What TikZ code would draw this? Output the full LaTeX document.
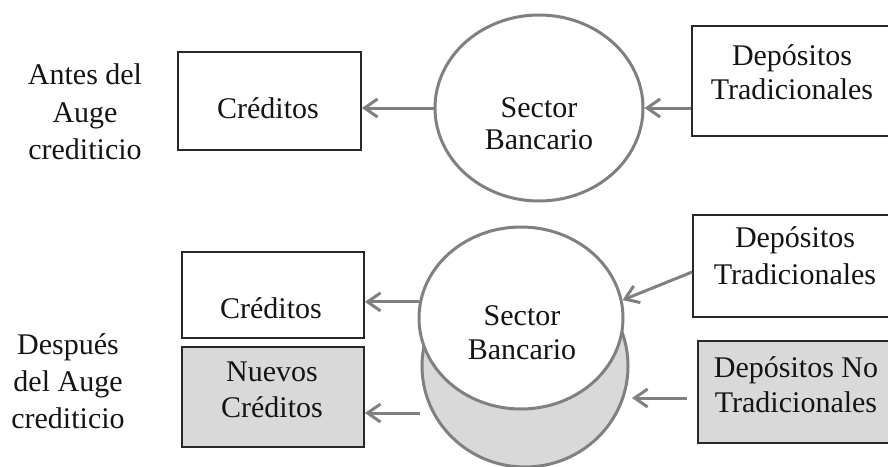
\documentclass[tikz,border=0pt]{standalone}
\usepackage{fontspec}
\setmainfont{Liberation Serif}
\usetikzlibrary{shapes.geometric,arrows.meta}
\definecolor{arrowgray}{RGB}{128,128,128}
\definecolor{fillgray}{RGB}{217,217,217}
\definecolor{boxline}{RGB}{40,40,40}
\definecolor{ink}{RGB}{20,20,20}
\begin{document}
\begin{tikzpicture}[x=1pt,y=-1pt,
  box/.style={draw=boxline, line width=1.8pt, inner sep=0pt, fill=white},
  graybox/.style={box, fill=fillgray},
  bank/.style={ellipse, draw=arrowgray, line width=3pt, fill=white, inner sep=0pt},
  graybank/.style={bank, fill=fillgray},
  txt/.style={text=ink, align=center, inner sep=0pt},
  bs/.style={font=\fontsize{30}{#1}\selectfont},
  flow/.style={draw=arrowgray, line width=3pt, -{Straight Barb[length=13pt,width=18pt]}}
]
\useasboundingbox (0,0) rectangle (888,466);

% ---------- Antes del auge ----------
\node[txt, bs=37.5] (l1) at (85,112) {Antes del\\Auge\\crediticio};
\node[box, minimum width=183pt, minimum height=98pt] (c1) at (269.5,101) {};
\node[txt, bs=34] (tc1) at (268,108) {Créditos};
\node[bank, minimum width=208pt, minimum height=186pt] (s1) at (539,108) {};
\node[txt, bs=32] (ts1) at (539,124) {Sector\\Bancario};
\node[box, minimum width=203pt, minimum height=110pt] (d1) at (793.5,81) {};
\node[txt, bs=34] (td1) at (792,72) {Depósitos\\Tradicionales};

\draw[flow] (s1.west) -- (s1.west -| c1.east);
\draw[flow] (d1.west |- s1.east) -- (s1.east);

% ---------- Después del auge ----------
\node[txt, bs=37] (l2) at (68,381) {Después\\del Auge\\crediticio};
\node[box, minimum width=182pt, minimum height=86pt] (c2) at (273,295) {};
\node[txt, bs=34] (tc2) at (271,308) {Créditos};
\node[graybox, minimum width=182pt, minimum height=100pt] (n2) at (273,397) {};
\node[txt, bs=36] (tn2) at (272,390) {Nuevos\\Créditos};

\node[graybank, minimum width=206pt, minimum height=202pt] (g2) at (525,366) {};
\node[bank, minimum width=204pt, minimum height=182pt] (s2) at (521,318) {};
\node[txt, bs=34] (ts2) at (522,333) {Sector\\Bancario};

\node[box, minimum width=202pt, minimum height=102pt] (d2) at (794,266) {};
\node[txt, bs=37] (td2) at (795,256) {Depósitos\\Tradicionales};
\node[graybox, minimum width=197pt, minimum height=102pt] (nd2) at (796.5,392) {};
\node[txt, bs=35] (tnd2) at (796,385) {Depósitos No\\Tradicionales};

\coordinate (a4) at (420,413);
\coordinate (a5s) at (687,398);
\coordinate (a5t) at (632,398);

\draw[flow] (s2.171) -- (s2.171 -| c2.east);
\draw[flow] (a4) -- (a4 -| n2.east);
\draw[flow] ([yshift=-6pt]d2.west) -- (s2.10);
\draw[flow] (a5s) -- (a5t);
\end{tikzpicture}
\end{document}
